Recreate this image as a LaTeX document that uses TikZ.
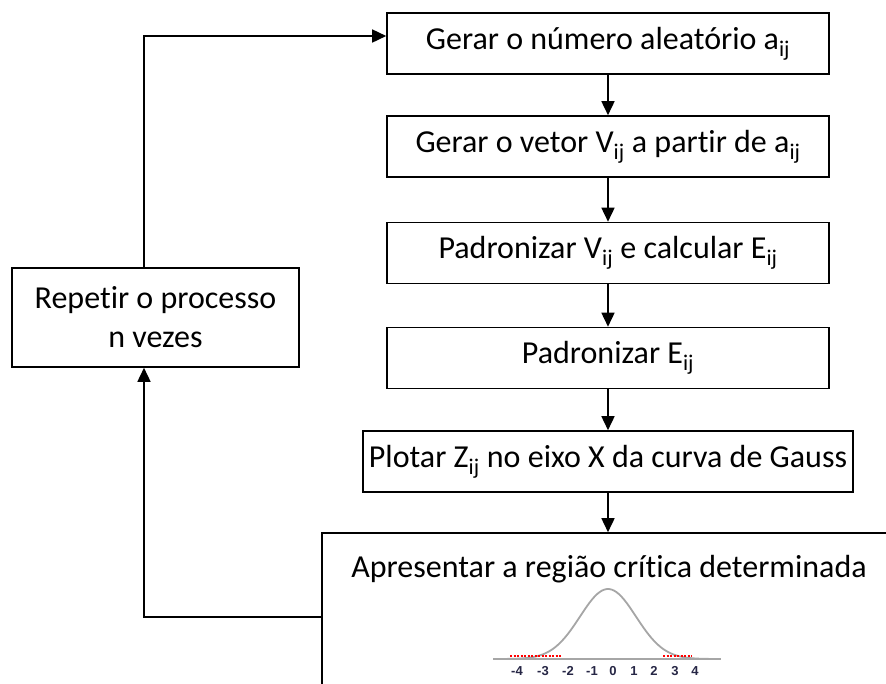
\documentclass[tikz,border=0pt]{standalone}
\usepackage{fontspec}
\setmainfont{Carlito}[Ligatures=CommonOff]
\newfontfamily\axisfont{Liberation Sans}
\usetikzlibrary{arrows.meta}
\definecolor{axisnum}{HTML}{262645}
\definecolor{curvegray}{HTML}{A6A6A6}
\begin{document}
\begin{tikzpicture}[x=1pt,y=-1pt,
  box/.style={draw=black, line width=1.6pt, minimum width=442pt, minimum height=61pt,
    inner sep=0pt, font=\fontsize{32}{38}\selectfont},
  conn/.style={draw=black, line width=1.6pt, -{Triangle[length=14pt,width=13pt]}},
  txt/.style={inner sep=0pt, font=\fontsize{32}{38}\selectfont},
  num/.style={inner sep=0pt, text=axisnum, font=\axisfont\bfseries\fontsize{13}{13}\selectfont},
  curve/.style={draw=curvegray, line width=1.8pt},
  crit/.style={draw=red, line width=1.6pt, dash pattern=on 2pt off 1.5pt}]
\useasboundingbox (0,0) rectangle (886,683);
\clip (0,0) rectangle (886,683);

\node[box] (b1) at (608,43.5) {Gerar o número aleatório a\textsubscript{ij}};
\node[box] (b2) at (608,146.5) {Gerar o vetor V\textsubscript{ij} a partir de a\textsubscript{ij}};
\node[box] (b3) at (608,253) {Padronizar V\textsubscript{ij} e calcular E\textsubscript{ij}};
\node[box] (b4) at (608,358) {Padronizar E\textsubscript{ij}};
\node[box, minimum width=490pt] (b5) at (608,461.5) {Plotar Z\textsubscript{ij} no eixo X da curva de Gauss};
\node[draw=black, line width=1.6pt, minimum width=578pt, minimum height=170pt, inner sep=0pt] (b6) at (611,618) {};
\node[txt] (t6) at (609,569) {Apresentar a região crítica determinada};

\node[draw=black, line width=1.6pt, minimum width=287pt, minimum height=99pt, inner sep=0pt,
  align=center, font=\fontsize{32}{39}\selectfont] (lb) at (155.5,317.5) {Repetir o processo\\n vezes};

\draw[conn] (b1.south) -- (b2.north);
\draw[conn] (b2.south) -- (b3.north);
\draw[conn] (b3.south) -- (b4.north);
\draw[conn] (b4.south) -- (b5.north);
\draw[conn] (b5.south) -- (b5.south |- b6.north);

\coordinate (c1) at (144,36);
\coordinate (c2) at (144,617);
\draw[conn] (lb.north -| c1) -- (c1) -- (b1.west |- c1);
\draw[conn] (b6.west |- c2) -- (c2) -- (lb.south -| c2);

% Gauss curve
\coordinate (axl) at (493,659);
\coordinate (axr) at (721,659);
\draw[curve] (axl) -- (axr);
\draw[curve] plot[domain=-110:110, samples=90] ({608+\x},{659-70*exp(-(\x*\x)/(2*28*28))});
\draw[crit] (510,656) -- (562,656);
\draw[crit] (663,656) -- (692,656);

\foreach \v/\xx in {-4/517,-3/543,-2/568,-1/592,0/613,1/634,2/654,3/675,4/695}
  \node[num] (n\xx) at (\xx,671) {\v};
\end{tikzpicture}
\end{document}
